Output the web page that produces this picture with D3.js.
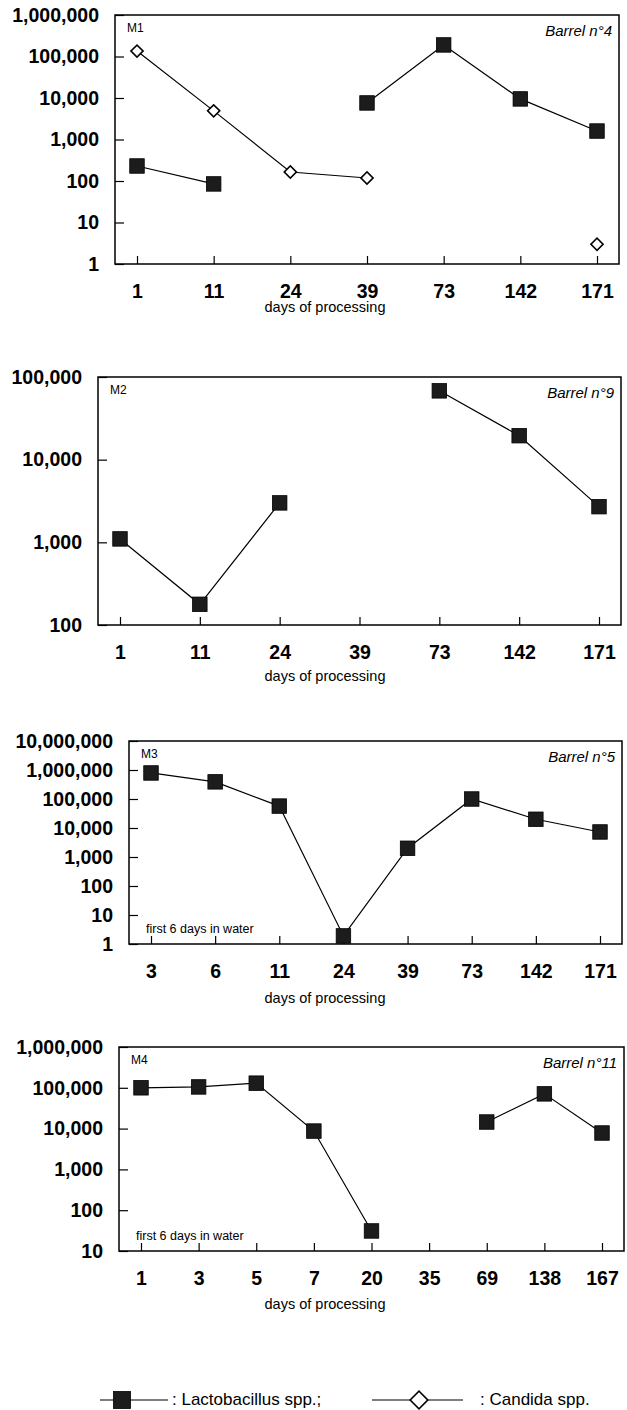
<!DOCTYPE html>
<html>
<head>
<meta charset="utf-8">
<script src="https://cdn.jsdelivr.net/npm/d3@7"></script>
<style>
  body { margin: 0; background: #fff; }
  svg { display: block; font-family: "Liberation Sans", Arial, sans-serif; }
</style>
</head>
<body>
<div id="chart"></div>
<script>
// values (cfu, log scale); null = no count that day

// M1, barrel 4
const m1Days = ["1", "11", "24", "39", "73", "142", "171"];
const m1Lacto = [230, 85, null, 7600, 190000, 9500, 1600];
const m1Candida = [135000, 4900, 165, 118, null, null, 3];
const m1Ticks = [1, 10, 100, 1000, 10000, 100000, 1000000];

// M2, barrel 9
const m2Days = ["1", "11", "24", "39", "73", "142", "171"];
const m2Lacto = [1100, 178, 3000, null, 68000, 19500, 2700];
const m2Ticks = [100, 1000, 10000, 100000];

// M3, barrel 5
const m3Days = ["3", "6", "11", "24", "39", "73", "142", "171"];
const m3Lacto = [790000, 390000, 57000, 1.9, 2000, 100000, 20000, 7300];
const m3Ticks = [1, 10, 100, 1000, 10000, 100000, 1000000, 10000000];

// M4, barrel 11
const m4Days = ["1", "3", "5", "7", "20", "35", "69", "138", "167"];
const m4Lacto = [100000, 105000, 130000, 8700, 31, null, 14500, 71000, 7800];
const m4Ticks = [10, 100, 1000, 10000, 100000, 1000000];

const W = 627, H = 1410;

const svg = d3.select("#chart").append("svg")
    .attr("width", W)
    .attr("height", H);

// frame boxes measured on the page
const panels = [
    {name: "M1", barrel: "Barrel n°4", days: m1Days, lacto: m1Lacto, candida: m1Candida, ticks: m1Ticks,
     box: {left: 115, right: 619, top: 15, bottom: 264}, labelY: 312, water: false},
    {name: "M2", barrel: "Barrel n°9", days: m2Days, lacto: m2Lacto, candida: null, ticks: m2Ticks,
     box: {left: 98, right: 621, top: 377, bottom: 625}, labelY: 681, water: false},
    {name: "M3", barrel: "Barrel n°5", days: m3Days, lacto: m3Lacto, candida: null, ticks: m3Ticks,
     box: {left: 129, right: 622, top: 741, bottom: 944}, labelY: 1003, water: true},
    {name: "M4", barrel: "Barrel n°11", days: m4Days, lacto: m4Lacto, candida: null, ticks: m4Ticks,
     box: {left: 119, right: 624, top: 1047, bottom: 1251}, labelY: 1309, water: true}
];

const fmt = d3.format(",");

function drawSquares(g, pts, size) {
    g.selectAll(".sq").data(pts).enter().append("rect")
        .attr("class", "sq")
        .attr("x", d => d[0] - size / 2)
        .attr("y", d => d[1] - size / 2)
        .attr("width", size)
        .attr("height", size)
        .style("fill", "#1c1c1c")
        .style("stroke", "#000")
        .style("stroke-width", 0.8);
}

function drawDiamonds(g, pts, side) {
    g.selectAll(".dm").data(pts).enter().append("rect")
        .attr("class", "dm")
        .attr("x", -side / 2)
        .attr("y", -side / 2)
        .attr("width", side)
        .attr("height", side)
        .attr("transform", d => `translate(${d[0]},${d[1]}) rotate(45)`)
        .style("fill", "#fff")
        .style("stroke", "#000")
        .style("stroke-width", 1.6);
}

panels.forEach(p => {
    const b = p.box;
    const g = svg.append("g");

    const x = d3.scalePoint()
        .domain(p.days)
        .range([b.left + 22, b.right - 22]);

    const y = d3.scaleLog()
        .domain([p.ticks[0], p.ticks[p.ticks.length - 1]])
        .range([b.bottom, b.top]);

    // y axis, ticks pointing inward
    const yAxis = d3.axisLeft(y)
        .tickValues(p.ticks)
        .tickFormat(fmt)
        .tickSize(-9)
        .tickPadding(16);

    const ya = g.append("g")
        .attr("transform", `translate(${b.left},0)`)
        .call(yAxis);
    ya.select(".domain").remove();
    ya.selectAll("text")
        .style("font-size", "19.5px")
        .style("font-weight", "bold")
        .style("font-family", "'Liberation Sans', Arial, sans-serif")
        .style("fill", "#000");
    ya.selectAll("line").style("stroke", "#000").style("stroke-width", 1.2);

    const xAxis = d3.axisBottom(x)
        .tickSize(-8)
        .tickPadding(20);

    const xa = g.append("g")
        .attr("transform", `translate(0,${b.bottom})`)
        .call(xAxis);
    xa.select(".domain").remove();
    xa.selectAll("text")
        .style("font-size", "19.5px")
        .style("font-weight", "bold")
        .style("font-family", "'Liberation Sans', Arial, sans-serif")
        .style("fill", "#000");
    xa.selectAll("line").style("stroke", "#000").style("stroke-width", 1.2);

    // frame
    g.append("rect")
        .attr("x", b.left)
        .attr("y", b.top)
        .attr("width", b.right - b.left)
        .attr("height", b.bottom - b.top)
        .style("fill", "none")
        .style("stroke", "#000")
        .style("stroke-width", 1.5);

    const line = d3.line()
        .defined(d => d[1] != null)
        .x(d => x(d[0]))
        .y(d => y(d[1]));

    // Candida series (open diamonds)
    if (p.candida) {
        const cd = p.days.map((d, i) => [d, p.candida[i]]);
        g.append("path")
            .datum(cd)
            .attr("d", line)
            .style("fill", "none")
            .style("stroke", "#000")
            .style("stroke-width", 1.2);
        drawDiamonds(g, cd.filter(d => d[1] != null).map(d => [x(d[0]), y(d[1])]), 8.6);
    }

    // Lactobacillus series (filled squares)
    const ld = p.days.map((d, i) => [d, p.lacto[i]]);
    g.append("path")
        .datum(ld)
        .attr("d", line)
        .style("fill", "none")
        .style("stroke", "#000")
        .style("stroke-width", 1.2);
    drawSquares(g, ld.filter(d => d[1] != null).map(d => [x(d[0]), y(d[1])]), 14.5);

    g.append("text")
        .attr("x", b.left + 12)
        .attr("y", b.top + 17)
        .style("font-size", "12px")
        .text(p.name);

    g.append("text")
        .attr("x", b.right - 7)
        .attr("y", b.top + 21)
        .attr("text-anchor", "end")
        .style("font-size", "15px")
        .style("font-style", "italic")
        .text(p.barrel);

    if (p.water) {
        g.append("text")
            .attr("x", b.left + 17)
            .attr("y", b.bottom - 11)
            .style("font-size", "12.5px")
            .text("first 6 days in water");
    }

    g.append("text")
        .attr("x", 325)
        .attr("y", p.labelY)
        .attr("text-anchor", "middle")
        .style("font-size", "14.5px")
        .text("days of processing");
});

// legend
const leg = svg.append("g");
const ly = 1400;
leg.append("line").attr("x1", 100).attr("x2", 168).attr("y1", ly).attr("y2", ly)
    .style("stroke", "#000").style("stroke-width", 1.2);
drawSquares(leg, [[122, ly]], 17);
leg.append("text").attr("x", 172).attr("y", ly + 5).style("font-size", "17px")
    .text(": Lactobacillus spp.;");

const leg2 = svg.append("g");
leg2.append("line").attr("x1", 372).attr("x2", 463).attr("y1", ly).attr("y2", ly)
    .style("stroke", "#000").style("stroke-width", 1.2);
drawDiamonds(leg2, [[419, ly]], 12.5);
leg2.append("text").attr("x", 480).attr("y", ly + 5).style("font-size", "17px")
    .text(": Candida spp.");
</script>
</body>
</html>
